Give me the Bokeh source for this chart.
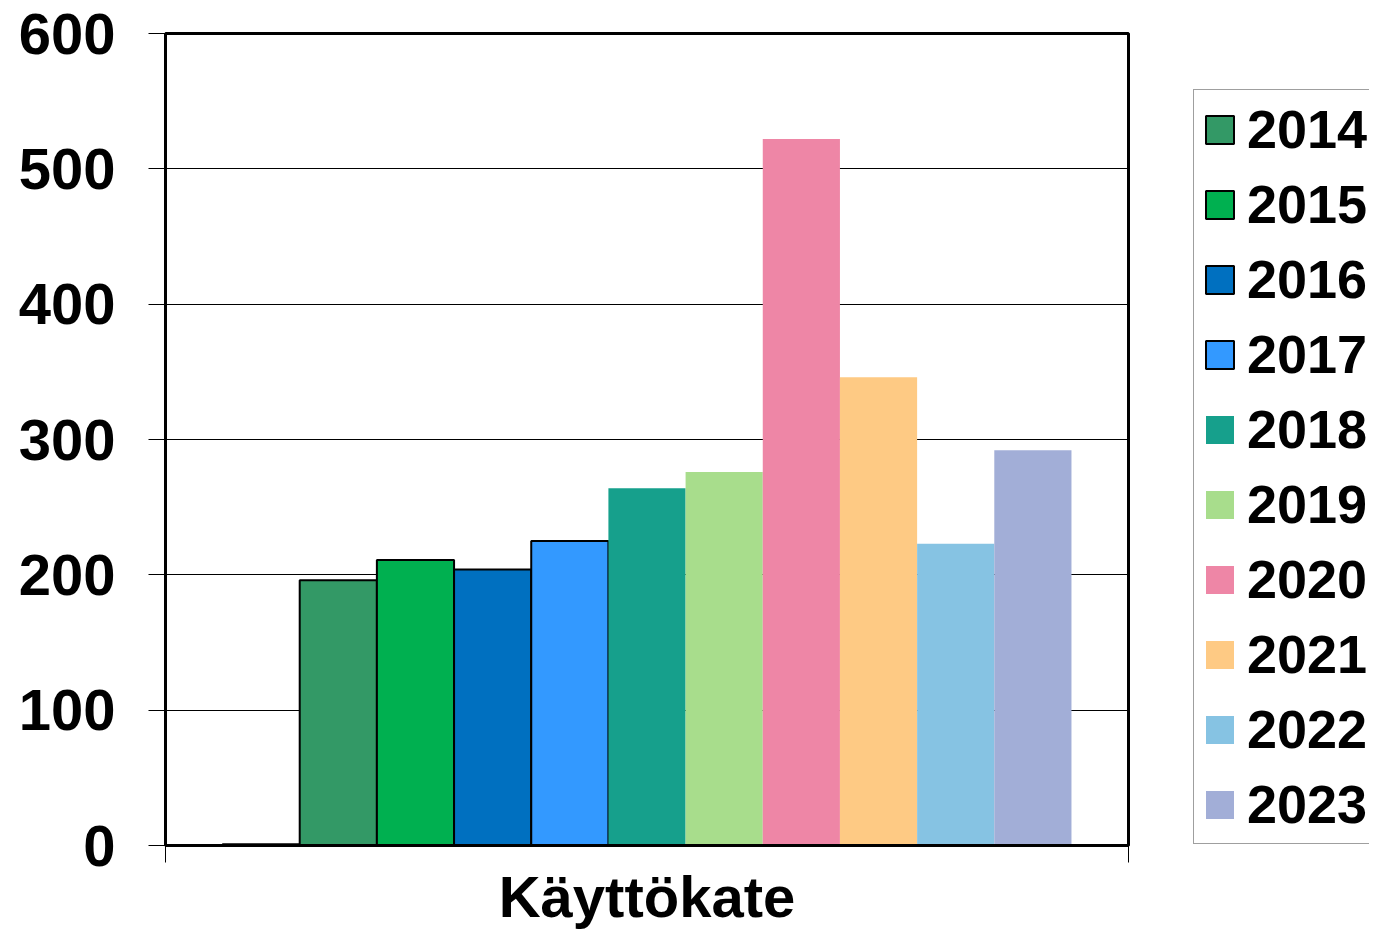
from bokeh.plotting import figure
from bokeh.models import Range1d, FixedTicker, Legend, LegendItem
from bokeh.layouts import row
from bokeh.embed import file_html
from bokeh.resources import INLINE

category = "Käyttökate"
years = ["", "2014", "2015", "2016", "2017", "2018", "2019", "2020", "2021", "2022", "2023"]
values = [1, 196, 211, 204, 225, 264, 276, 522, 346, 223, 292]
colors = ["#FFFFFF", "#339966", "#00B050", "#0070C0", "#3399FF", "#16A08C",
          "#A8DD8C", "#EE86A6", "#FECA84", "#86C3E3", "#A2AED7"]
outlined = [True, True, True, True, True, False, False, False, False, False, False]
y_ticks = [0, 100, 200, 300, 400, 500, 600]

FONT = "Liberation Sans"
margin = 0.739
x0, x1 = -0.5 - margin, len(years) - 0.5 + margin
H = 931

p = figure(width=1190, height=H, output_backend="svg", toolbar_location=None,
           x_range=Range1d(x0, x1), y_range=Range1d(0, 600),
           min_border_left=165, min_border_top=33, min_border_right=62, min_border_bottom=86)

for i, (yr, v, c, o) in enumerate(zip(years, values, colors, outlined)):
    p.vbar(x=[i], top=[v], bottom=0, width=1.0, fill_color=c,
           line_color="black" if o else None, line_width=2)

p.outline_line_color = "black"
p.outline_line_width = 3

p.ygrid.grid_line_color = "black"
p.ygrid.grid_line_width = 1
p.xgrid.grid_line_color = None

p.yaxis.ticker = FixedTicker(ticks=y_ticks)
p.yaxis.major_tick_out = 17
p.yaxis.major_tick_in = 0
p.yaxis.minor_tick_line_color = None
p.yaxis.axis_line_color = "black"
p.yaxis.axis_line_width = 3
p.yaxis.major_tick_line_color = "black"
p.yaxis.major_label_text_font = FONT
p.yaxis.major_label_text_font_style = "bold"
p.yaxis.major_label_text_font_size = "58px"
p.yaxis.major_label_text_color = "black"
p.yaxis.major_label_standoff = 33

p.xaxis.ticker = FixedTicker(ticks=[x0, x1])
p.xaxis.major_label_overrides = {x0: "", x1: ""}
p.xaxis.major_tick_out = 17
p.xaxis.major_tick_in = 0
p.xaxis.minor_tick_line_color = None
p.xaxis.axis_line_color = "black"
p.xaxis.axis_line_width = 3
p.xaxis.major_tick_line_color = "black"
p.xaxis.axis_label = category
p.xaxis.axis_label_text_font = FONT
p.xaxis.axis_label_text_font_style = "bold"
p.xaxis.axis_label_text_font_size = "58px"
p.xaxis.axis_label_text_color = "black"
p.xaxis.axis_label_standoff = 1

# legend panel: proxy bars (same values) hidden beneath the opaque legend box
lf = figure(width=179, height=H, output_backend="svg", toolbar_location=None,
            x_range=Range1d(0, 1), y_range=Range1d(-30, 600),
            min_border_left=0, min_border_right=0, min_border_top=0, min_border_bottom=0)
lf.axis.visible = False
lf.grid.visible = False
lf.outline_line_color = None

items = []
for yr, v, c, o in zip(years, values, colors, outlined):
    if not yr:
        continue
    r = lf.vbar(x=[0.5], top=[v], bottom=0, width=0.3, fill_color=c,
                line_color="black" if o else None, line_width=2)
    items.append(LegendItem(label=yr, renderers=[r]))

legend = Legend(items=items, location=(3, 1))
legend.label_text_font = FONT
legend.label_text_font_style = "bold"
legend.label_text_font_size = "54px"
legend.label_text_color = "black"
legend.glyph_width = 35
legend.glyph_height = 35
legend.label_standoff = 10
legend.spacing = 13
legend.padding = 8
legend.margin = 0
legend.border_line_color = "#404040"
legend.border_line_width = 1
legend.background_fill_color = "white"
legend.background_fill_alpha = 1
lf.add_layout(legend, "center")

open("out.html", "w").write(file_html(row(p, lf), INLINE))
